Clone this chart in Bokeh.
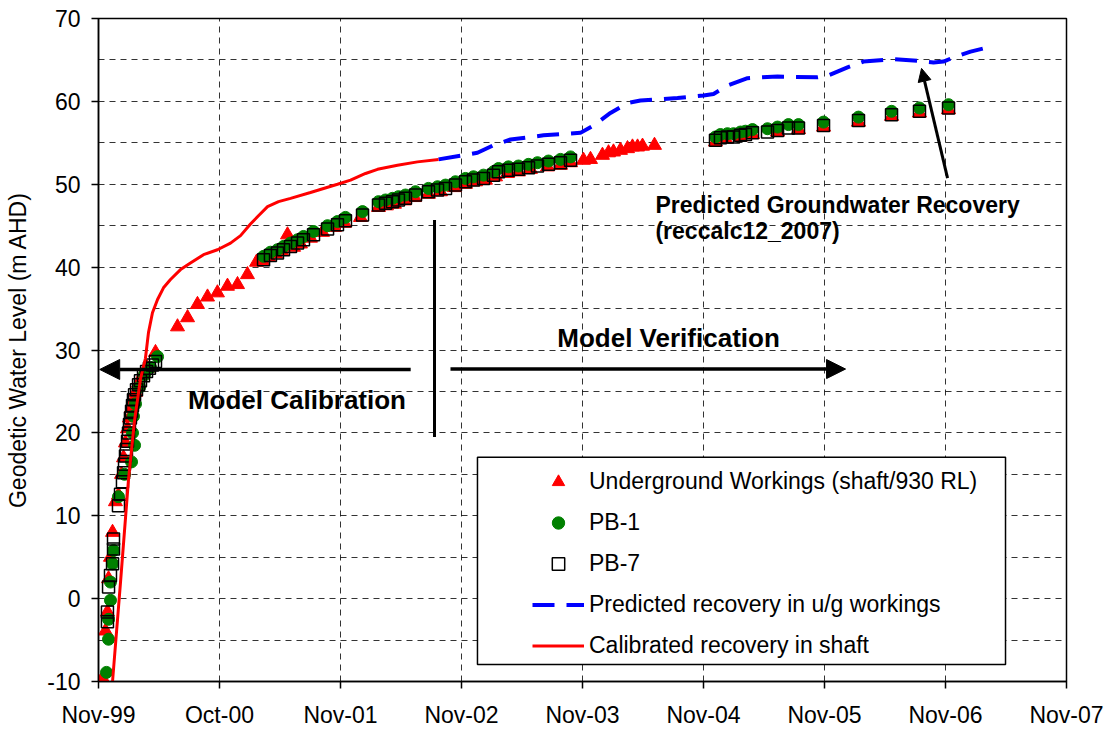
from bokeh.plotting import figure
from bokeh.models import (Range1d, FixedTicker, Legend, LegendItem, Label, Arrow,
                          NormalHead, BoxAnnotation)
from bokeh.embed import file_html
from bokeh.resources import INLINE

FONT = "Liberation Sans"

# ---- axes ----
x_tick_pos = [0, 1, 2, 3, 4, 5, 6, 7, 8]
x_tick_labels = ["Nov-99", "Oct-00", "Nov-01", "Nov-02", "Nov-03",
                 "Nov-04", "Nov-05", "Nov-06", "Nov-07"]
y_ticks = [-10, 0, 10, 20, 30, 40, 50, 60, 70]
y_tick_labels = ["-10", "0", "10", "20", "30", "40", "50", "60", "70"]
y_grid = [-5, 0, 5, 10, 15, 20, 25, 30, 35, 40, 45, 50, 55, 60, 65]

# ---- data (x = years after Nov-99) ----
ug_x = [0.033, 0.058, 0.074, 0.083, 0.099, 0.116, 0.140, 0.165,
        0.190, 0.207, 0.223, 0.240, 0.256, 0.273, 0.289, 0.306, 0.331, 0.364, 0.405, 0.471,
        0.653, 0.736, 0.818, 0.901, 0.983, 1.066, 1.149, 1.231, 1.306,
        1.355, 1.405, 1.463, 1.512, 1.562, 1.612, 1.669, 1.752, 1.851, 1.950, 2.033,
        2.165, 2.314, 2.380, 2.446, 2.529, 2.612, 2.727, 2.826, 2.942, 3.033, 3.116,
        3.198, 3.281, 3.380, 3.471, 3.570, 3.711, 3.818, 3.901,
        4.008, 4.066, 4.165, 4.215, 4.256, 4.314, 4.372, 4.413, 4.455, 4.496, 4.595,
        5.099, 5.182, 5.306, 5.405, 5.612, 5.785, 5.992, 6.281, 6.554, 6.785, 7.025]
ug_y = [-9.6, -3.9, -1.6, 2.4, 5.0, 8.0, 11.7, 12.5,
        15.0, 17.0, 18.8, 20.5, 21.8, 23.0, 24.0, 24.9, 26.0, 27.0, 27.8, 29.7,
        32.8, 33.9, 35.5, 36.4, 36.9, 37.7, 37.9, 39.1, 40.6,
        40.8, 41.2, 41.6, 42.0, 43.9, 42.4, 42.8, 43.5, 44.2, 44.8, 45.3,
        46.0, 47.2, 47.4, 47.6, 48.0, 48.4, 48.8, 49.1, 49.6, 50.0, 50.3,
        50.5, 50.9, 51.3, 51.5, 51.8, 52.1, 52.3, 52.6,
        52.9, 53.0, 53.5, 53.8, 53.9, 54.1, 54.3, 54.5, 54.5, 54.6, 54.7,
        55.1, 55.5, 55.7, 56.0, 56.3, 56.6, 56.9, 57.5, 58.2, 58.6, 59.0]

pb1_x = [0.066, 0.083, 0.083, 0.099, 0.099, 0.116, 0.124, 0.165, 0.215, 0.273,
         0.298, 0.281, 0.289, 0.306, 0.339, 0.380, 0.430, 0.488,
         1.364, 1.421, 1.479, 1.529, 1.587, 1.645, 1.694, 1.777, 1.893, 1.975, 2.041,
         2.182, 2.314, 2.372, 2.430, 2.479, 2.537, 2.620, 2.727, 2.802, 2.868, 2.950,
         3.033, 3.099, 3.182, 3.264, 3.306, 3.388, 3.471, 3.554, 3.628, 3.719, 3.818, 3.901,
         5.099, 5.140, 5.198, 5.248, 5.306, 5.347, 5.405, 5.529, 5.612, 5.702, 5.785,
         5.992, 6.281, 6.554, 6.785, 7.025]
pb1_y = [-8.9, -4.9, -2.5, -0.2, 2.0, 4.2, 5.8, 12.3, 15.0, 16.5,
         18.5, 20.0, 22.0, 23.5, 25.5, 27.0, 27.9, 29.2,
         41.3, 41.8, 42.1, 42.5, 42.9, 43.3, 43.7, 44.3, 45.0, 45.5, 46.0,
         46.7, 47.9, 48.1, 48.3, 48.5, 48.7, 49.1, 49.5, 49.7, 49.9, 50.3,
         50.7, 50.9, 51.1, 51.5, 51.9, 52.1, 52.2, 52.4, 52.6, 52.8, 53.0, 53.3,
         55.7, 56.0, 56.1, 56.1, 56.3, 56.4, 56.6, 56.7, 56.9, 57.2, 57.2,
         57.5, 58.1, 58.8, 59.2, 59.6]

pb7_x = [0.074, 0.074, 0.083, 0.099, 0.116, 0.124, 0.124, 0.165, 0.182, 0.198,
         0.207, 0.215, 0.223, 0.231, 0.240, 0.248, 0.256, 0.264, 0.273, 0.281,
         0.289, 0.298, 0.314, 0.331, 0.347, 0.372, 0.397, 0.421, 0.446, 0.471,
         1.364, 1.421, 1.479, 1.529, 1.587, 1.645, 1.694, 1.777, 1.893, 1.975, 2.041,
         2.182, 2.314, 2.372, 2.430, 2.479, 2.537, 2.620, 2.727, 2.802, 2.868, 2.950,
         3.033, 3.099, 3.182, 3.264, 3.306, 3.388, 3.471, 3.554, 3.628, 3.719, 3.818, 3.901,
         5.099, 5.140, 5.198, 5.248, 5.306, 5.347, 5.405, 5.529, 5.612, 5.702, 5.785,
         5.992, 6.281, 6.554, 6.785, 7.025]
pb7_y = [-2.8, -1.6, 1.4, 2.8, 4.2, 6.0, 7.2, 11.2, 12.6, 14.1,
         15.2, 16.2, 17.2, 18.0, 19.0, 20.0, 21.0, 21.8, 22.6, 23.3,
         24.0, 24.6, 25.2, 25.8, 26.3, 26.9, 27.4, 27.8, 28.2, 28.6,
         40.9, 41.4, 41.7, 42.1, 42.5, 42.9, 43.3, 43.9, 44.6, 45.1, 45.6,
         46.3, 47.5, 47.7, 47.9, 48.1, 48.3, 48.7, 49.1, 49.3, 49.5, 49.9,
         50.3, 50.5, 50.7, 51.1, 51.5, 51.7, 51.8, 52.0, 52.2, 52.4, 52.6, 52.9,
         55.3, 55.6, 55.7, 55.7, 55.9, 56.0, 56.2, 56.3, 56.5, 56.8, 56.8,
         57.1, 57.7, 58.4, 58.8, 59.2]

pred_x = [2.810, 3.132, 3.264, 3.405, 3.678, 3.983, 4.091, 4.231, 4.372, 4.479,
          4.785, 5.000, 5.083, 5.198, 5.364, 5.612, 5.942, 6.025, 6.190, 6.322,
          6.570, 6.769, 6.901, 6.983, 7.066, 7.207, 7.347]
pred_y = [53.0, 53.8, 54.7, 55.4, 55.9, 56.2, 57.1, 58.6, 59.8, 60.1,
          60.4, 60.7, 60.9, 61.9, 62.8, 63.0, 62.9, 63.1, 64.1, 64.8,
          65.1, 64.9, 64.7, 64.8, 65.3, 66.0, 66.5]

cal_x = [0.116, 0.182, 0.248, 0.298, 0.347, 0.388, 0.413, 0.446, 0.488, 0.537,
         0.595, 0.678, 0.760, 0.868, 0.983, 1.091, 1.174, 1.256, 1.322, 1.397,
         1.488, 1.587, 1.752, 1.975, 2.083, 2.207, 2.306, 2.471, 2.636, 2.810]
cal_y = [-10.0, 2.0, 14.4, 21.5, 26.5, 29.0, 32.1, 34.5, 36.1, 37.5,
         38.5, 39.7, 40.5, 41.5, 42.1, 42.9, 43.8, 45.2, 46.2, 47.3,
         47.9, 48.3, 49.0, 50.0, 50.5, 51.3, 51.8, 52.3, 52.7, 53.0]

p = figure(width=1107, height=730, x_range=Range1d(0, 8), y_range=Range1d(-10, 70),
           output_backend="svg", toolbar_location=None,
           min_border_left=98, min_border_right=41, min_border_top=18, min_border_bottom=47,
           background_fill_color="white", border_fill_color="white")
p.outline_line_color = "black"
p.outline_line_width = 1.5

# axes
p.xaxis.ticker = FixedTicker(ticks=x_tick_pos)
p.xaxis.major_label_overrides = {k: v for k, v in zip(x_tick_pos, x_tick_labels)}
p.yaxis.ticker = FixedTicker(ticks=y_ticks)
p.yaxis.major_label_overrides = {k: v for k, v in zip(y_ticks, y_tick_labels)}
p.yaxis.axis_label = "Geodetic Water Level (m AHD)"
for ax in (p.xaxis[0], p.yaxis[0]):
    ax.axis_line_color = "black"
    ax.axis_line_width = 1.5
    ax.major_tick_line_color = "black"
    ax.major_tick_line_width = 1.5
    ax.major_tick_in = 0
    ax.major_tick_out = 7
    ax.minor_tick_line_color = None
    ax.major_label_text_font = FONT
    ax.major_label_text_font_size = "23px"
    ax.major_label_text_color = "black"
    ax.axis_label_text_font = FONT
    ax.axis_label_text_font_size = "23px"
    ax.axis_label_text_font_style = "normal"
    ax.axis_label_text_color = "black"
p.xaxis.major_label_standoff = 13
p.yaxis.major_label_standoff = 11
p.yaxis.axis_label_standoff = 13

# grids
p.xgrid.ticker = FixedTicker(ticks=x_tick_pos)
p.ygrid.ticker = FixedTicker(ticks=y_grid)
for g in (p.xgrid[0], p.ygrid[0]):
    g.grid_line_color = "black"
    g.grid_line_alpha = 0.8
    g.grid_line_width = 1
    g.grid_line_dash = "6 5"

# data series
r_ug = p.scatter(ug_x, ug_y, marker="triangle", size=14, fill_color="#FF0000",
                 line_color="#FF0000")
r_pb1 = p.scatter(pb1_x, pb1_y, marker="circle", size=12, fill_color="#008000",
                  line_color="#008000")
r_pb7 = p.scatter(pb7_x, pb7_y, marker="square", size=12, fill_color=None,
                  line_color="black", line_width=1.5)
r_pred = p.line(pred_x, pred_y, line_color="#0000FF", line_width=4, line_dash="22 12")
r_cal = p.line(cal_x, cal_y, line_color="#FF0000", line_width=3)

# annotations
p.add_layout(Arrow(end=NormalHead(size=20, fill_color="black", line_color="black"),
                   x_start=2.58, y_start=27.65, x_end=0.01, y_end=27.65,
                   line_width=3.5, line_color="black"))
p.add_layout(Arrow(end=NormalHead(size=19, fill_color="black", line_color="black"),
                   x_start=2.909, y_start=27.7, x_end=6.174, y_end=27.7,
                   line_width=3.5, line_color="black"))
p.add_layout(Arrow(end=None, x_start=2.777, y_start=45.7, x_end=2.777, y_end=19.5,
                   line_width=3, line_color="black"))
p.add_layout(Arrow(end=NormalHead(size=13, fill_color="black", line_color="black"),
                   x_start=7.017, y_start=50.75, x_end=6.802, y_end=63.98,
                   line_width=3, line_color="black"))

def lab(text, x, y, size, align="center"):
    p.add_layout(Label(x=x, y=y, text=text, text_font=FONT, text_font_size=size,
                       text_font_style="bold", text_color="black", text_align=align,
                       text_baseline="alphabetic"))

lab("Model Calibration", 1.640, 23.95, "26px")
lab("Model Verification", 4.711, 31.4, "26px")
lab("Predicted Groundwater Recovery", 4.603, 47.5, "23px", "left")
lab("(reccalc12_2007)", 4.603, 44.4, "23px", "left")

# legend
box = BoxAnnotation(left=3.132, right=7.496, top=17.07, bottom=-7.96,
                    fill_color="white", fill_alpha=1.0,
                    line_color="black", line_alpha=1.0, line_width=1.5)
p.add_layout(box)
legend = Legend(items=[
    LegendItem(label="Underground Workings (shaft/930 RL)", renderers=[r_ug]),
    LegendItem(label="PB-1", renderers=[r_pb1]),
    LegendItem(label="PB-7", renderers=[r_pb7]),
    LegendItem(label="Predicted recovery in u/g workings", renderers=[r_pred]),
    LegendItem(label="Calibrated recovery in shaft", renderers=[r_cal]),
], location=(434, 20), orientation="vertical", padding=0, margin=0, spacing=10,
    glyph_width=52, glyph_height=31, label_height=31, label_standoff=5,
    label_text_font=FONT, label_text_font_size="23px", label_text_color="black",
    background_fill_alpha=0, border_line_alpha=0)
p.add_layout(legend)

open("out.html", "w").write(file_html(p, INLINE, title="Groundwater recovery"))
